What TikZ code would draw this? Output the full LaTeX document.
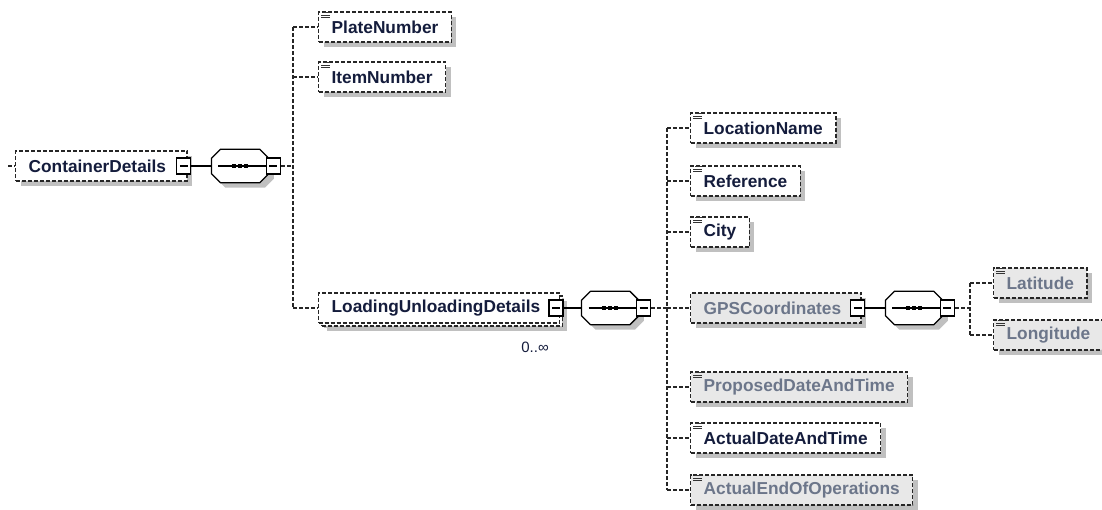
\documentclass[tikz,border=0pt]{standalone}
\usepackage{fontspec}
\setmainfont{Liberation Sans}
\usetikzlibrary{positioning,shadows}
\definecolor{nametext}{RGB}{20,28,60}
\definecolor{greytext}{RGB}{108,118,138}
\definecolor{greyfill}{RGB}{232,232,232}
\definecolor{shadowgrey}{RGB}{192,192,192}
\begin{document}
\begin{tikzpicture}[x={(1pt,0pt)}, y={(0pt,-1pt)}]
  \tikzstyle{elem}=[draw=black!85, dash pattern=on 4pt off 2pt, line width=1.3pt, fill=white, rectangle, minimum height=30pt, inner xsep=13pt, inner ysep=0pt, anchor=west, font=\fontsize{17.3}{20}\selectfont\bfseries, text=nametext, drop shadow={shadow xshift=5pt, shadow yshift=-5pt, fill=shadowgrey, opacity=1}]
  \tikzstyle{opt}=[fill=greyfill, text=greytext]
  \tikzstyle{conn}=[draw=black!85, dash pattern=on 4pt off 2pt, line width=1.3pt]
  \tikzstyle{link}=[draw=black, line width=1.3pt]
  \tikzstyle{icon}=[draw=black!80, line width=1pt]
  \tikzstyle{minus}=[draw=black, solid, fill=white, line width=1.3pt, minimum width=14pt, minimum height=16pt, inner sep=0pt, path picture={\draw[line width=1.3pt] ([xshift=3pt]path picture bounding box.west) -- ([xshift=-3pt]path picture bounding box.east);}]
  \tikzstyle{seq}=[draw=none, rectangle, minimum width=57pt, minimum height=33pt, inner sep=0pt]
  \tikzstyle{oct}=[draw=black, fill=white, line width=1.3pt, line join=round, drop shadow={shadow xshift=5pt, shadow yshift=-5pt, fill=shadowgrey, opacity=1}]

\useasboundingbox (0,0) rectangle (1102,509);

\node[elem] (cd) at (15,166) {ContainerDetails\kern8pt};
\coordinate (cdin) at (8,166);
\draw[conn] (cdin) -- (cd.west);
\node[minus] (mb0) at ([xshift=-4pt]cd.east) {};
\node[seq, right=20pt of mb0] (s0) {};

\node[elem] (pn) at (318,27) {PlateNumber};
\node[elem] (itn) at (318,77) {ItemNumber};
\node[elem, drop shadow={shadow xshift=8pt, shadow yshift=-8pt, fill=shadowgrey, opacity=1}, copy shadow={shadow xshift=3pt, shadow yshift=-3pt, fill=white}] (lud) at (318,308) {LoadingUnloadingDetails\kern6pt};
\node[font=\fontsize{15}{18}\selectfont, text=nametext] (occ) at (535,347) {0..∞};
\node[minus] (mb2) at ([xshift=-4pt]lud.east) {};
\node[seq, right=18pt of mb2] (s1) {};

\node[elem] (ln) at (690,128) {LocationName};
\node[elem] (ref) at (690,181) {Reference};
\node[elem] (city) at (690,232) {City};
\node[elem, opt] (gps) at (690,308) {GPSCoordinates\kern7pt};
\node[elem, opt] (pdt) at (690,387) {ProposedDateAndTime};
\node[elem] (adt) at (690,438) {ActualDateAndTime};
\node[elem, opt] (eoo) at (690,490) {ActualEndOfOperations};
\node[minus] (mb4) at ([xshift=-4pt]gps.east) {};
\node[seq, right=20pt of mb4] (s2) {};

\node[elem, opt] (lat) at (993,283) {Latitude};
\node[elem, opt] (lon) at (993,335) {Longitude};

\foreach \s in {s0,s1,s2} {
  \draw[oct] ([xshift=9pt]\s.north west) -- ([xshift=-9pt]\s.north east) -- ([yshift=-9pt]\s.north east) -- ([yshift=9pt]\s.south east) -- ([xshift=-9pt]\s.south east) -- ([xshift=9pt]\s.south west) -- ([yshift=9pt]\s.south west) -- ([yshift=-9pt]\s.north west) -- cycle;
  \draw[link] ([xshift=7pt]\s.west) -- (\s.east);
  \foreach \d in {-6,0,6}
    \fill[black] ([xshift=\d pt-2pt, yshift=-2pt]\s.center) rectangle ++(4pt,4pt);
}

\node[minus, right=-3pt of s0] (mb1) {};
\node[minus, right=-3pt of s1] (mb3) {};
\node[minus, right=-3pt of s2] (mb5) {};
\draw[link] (mb0.east) -- (s0.west);
\draw[link] (mb2.east) -- (s1.west);
\draw[link] (mb4.east) -- (s2.west);

\coordinate (t0) at (293,166);
\draw[conn] (mb1.east) -- (t0);
\draw[conn] (t0 |- pn.west) -- (t0 |- lud.west);
\foreach \n in {pn,itn,lud}
  \draw[conn] (t0 |- \n.west) -- (\n.west);

\coordinate (t1) at (667,308);
\draw[conn] (mb3.east) -- (t1);
\draw[conn] (t1 |- ln.west) -- (t1 |- eoo.west);
\foreach \n in {ln,ref,city,gps,pdt,adt,eoo}
  \draw[conn] (t1 |- \n.west) -- (\n.west);

\coordinate (t2) at (970,308);
\draw[conn] (mb5.east) -- (t2);
\draw[conn] (t2 |- lat.west) -- (t2 |- lon.west);
\foreach \n in {lat,lon}
  \draw[conn] (t2 |- \n.west) -- (\n.west);

\foreach \n in {pn,itn,ln,ref,city,pdt,adt,eoo,lat,lon} {
  \draw[icon] ([shift={(5pt,-1.5pt)}]\n.north west) -- ++(7pt,0pt);
  \draw[icon] ([shift={(3pt,-4pt)}]\n.north west) -- ++(9pt,0pt);
  \draw[icon] ([shift={(3pt,-6.5pt)}]\n.north west) -- ++(9pt,0pt);
}

\end{tikzpicture}
\end{document}
